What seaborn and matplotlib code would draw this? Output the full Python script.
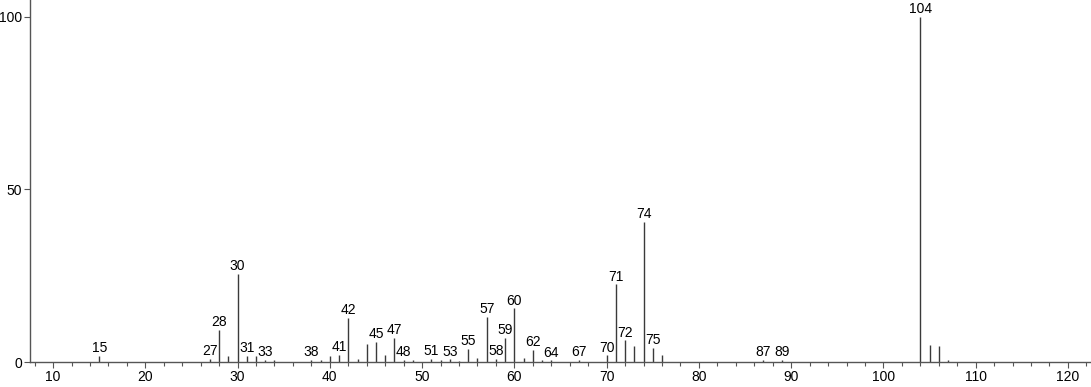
import matplotlib
matplotlib.use("Agg")
import matplotlib.pyplot as plt
import seaborn as sns
import pandas as pd
from matplotlib.ticker import MultipleLocator

mz = [15, 27, 28, 29, 30, 31, 32, 33, 34, 38, 39, 40, 41, 42, 43, 44, 45, 46, 47, 48,
      49, 51, 52, 53, 54, 55, 56, 57, 58, 59, 60, 61, 62, 63, 64, 67, 70, 71, 72, 73,
      74, 75, 76, 87, 89, 104, 105, 106, 107]
intensity = [1.8, 1.0, 9.3, 1.6, 25.5, 1.8, 1.8, 0.7, 0.7, 0.6, 0.7, 1.6, 2.0, 12.7, 1.0, 5.1, 5.8, 2.0, 6.9, 0.7,
             0.6, 0.9, 0.7, 0.8, 0.4, 3.8, 1.1, 13.1, 1.0, 6.9, 15.5, 1.1, 3.6, 0.7, 0.5, 0.6, 1.9, 22.5, 6.3, 4.6,
             40.6, 4.1, 1.9, 0.6, 0.6, 100.0, 4.9, 4.6, 0.6]
labeled = [15, 27, 28, 30, 31, 33, 38, 41, 42, 45, 47, 48, 51, 53, 55, 57, 58, 59, 60, 62,
           64, 67, 70, 71, 72, 74, 75, 87, 89, 104]
x_ticks = [10, 20, 30, 40, 50, 60, 70, 80, 90, 100, 110, 120]
y_ticks = [0, 50, 100]

df = pd.DataFrame({"mz": mz, "intensity": intensity})

sns.set_theme(style="ticks")
plt.rcParams["font.family"] = ["Liberation Sans", "DejaVu Sans"]

fig = plt.figure(figsize=(10.91, 3.87), dpi=100)
ax = fig.add_axes([30 / 1091, 25 / 387, 1 - 30 / 1091, 362 / 387])

ax.vlines(df["mz"], 0, df["intensity"], color="#3a3a3a", linewidth=1.0)

for m, v in zip(df["mz"], df["intensity"]):
    if m in labeled:
        ax.annotate(str(m), (m, v), xytext=(0, 0.5), textcoords="offset points",
                    ha="center", va="bottom", fontsize=10, color="black")

ax.set_xlim(7.5, 122.5)
ax.set_ylim(0, 104.85)
ax.set_xticks(x_ticks)
ax.set_yticks(y_ticks)
ax.xaxis.set_minor_locator(MultipleLocator(2))

sns.despine(ax=ax, top=True, right=True)
for s in ["left", "bottom"]:
    ax.spines[s].set_color("#555555")
    ax.spines[s].set_linewidth(1.0)
ax.tick_params(axis="both", which="major", length=4, width=0.8, color="#555555",
               labelsize=10, labelcolor="black", pad=1.5)
ax.tick_params(axis="x", which="minor", length=3, width=0.8, color="#555555")
ax.set_xlabel("")
ax.set_ylabel("")

fig.savefig("out.png", dpi=100)
